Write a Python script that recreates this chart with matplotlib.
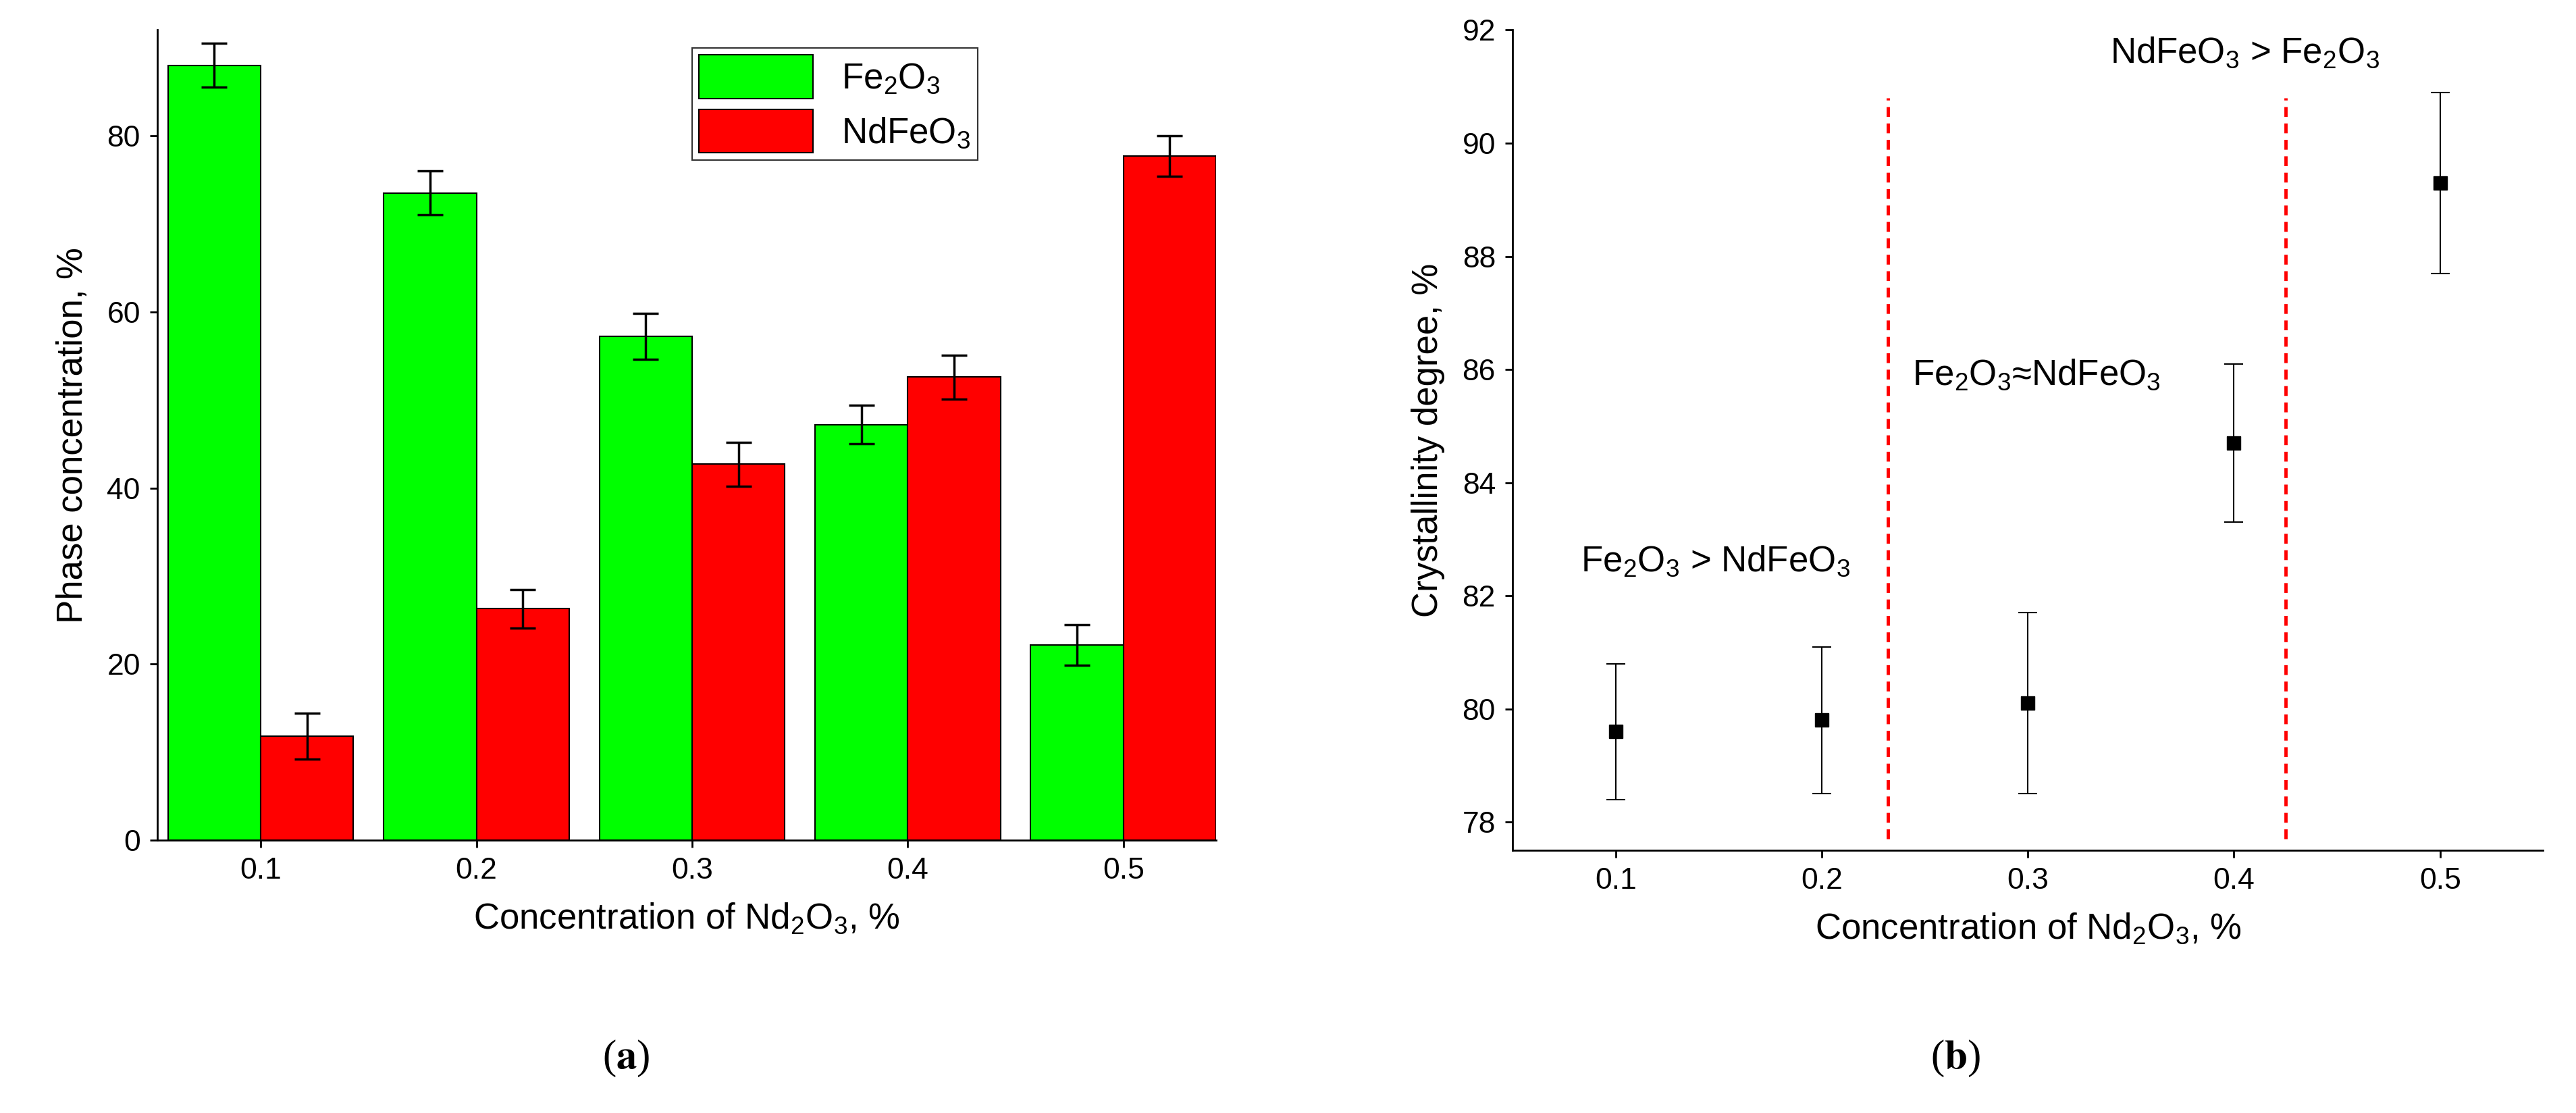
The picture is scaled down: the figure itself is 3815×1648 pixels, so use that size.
import matplotlib
matplotlib.use("Agg")
import matplotlib.pyplot as plt
import numpy as np

plt.rcParams['font.family'] = ['Liberation Sans', 'DejaVu Sans']
plt.rcParams['mathtext.default'] = 'regular'

conc = [0.1, 0.2, 0.3, 0.4, 0.5]
fe2o3 = [88.0, 73.5, 57.2, 47.2, 22.2]
fe2o3_err = [2.5, 2.5, 2.6, 2.2, 2.3]
ndfeo3 = [11.8, 26.3, 42.7, 52.6, 77.7]
ndfeo3_err = [2.6, 2.2, 2.5, 2.5, 2.3]
cryst = [79.6, 79.8, 80.1, 84.7, 89.3]
cryst_err = [1.2, 1.3, 1.6, 1.4, 1.6]
dividers = [0.232, 0.425]

fig = plt.figure(figsize=(38.16, 16.48), dpi=100)
fs_tick = 32
fs_lab = 38

ax1 = fig.add_axes([0.061, 0.245, 0.411, 0.728])
w = 0.043
ax1.bar(np.array(conc) - w/2, fe2o3, w, yerr=fe2o3_err, color='#00ff00', edgecolor='black',
        linewidth=1.5, capsize=14, error_kw=dict(elinewidth=2.5, capthick=2.5), label='Fe$_2$O$_3$')
ax1.bar(np.array(conc) + w/2, ndfeo3, w, yerr=ndfeo3_err, color='#ff0000', edgecolor='black',
        linewidth=1.5, capsize=14, error_kw=dict(elinewidth=2.5, capthick=2.5), label='NdFeO$_3$')
ax1.set_xlim(0.052, 0.543)
ax1.set_ylim(0, 92)
ax1.set_xticks(conc)
ax1.set_xticklabels([str(c) for c in conc])
ax1.set_yticks([0, 20, 40, 60, 80])
for s in ['top', 'right']:
    ax1.spines[s].set_visible(False)
for s in ['left', 'bottom']:
    ax1.spines[s].set_linewidth(2)
ax1.tick_params(labelsize=fs_tick, width=2, length=8, pad=10)
ax1.set_xlabel('Concentration of Nd$_2$O$_3$, %', fontsize=fs_lab, labelpad=18)
ax1.set_ylabel('Phase concentration, %', fontsize=fs_lab, labelpad=18)
leg = ax1.legend(loc='upper center', bbox_to_anchor=(0.64, 1.0), fontsize=fs_lab, frameon=True,
                 fancybox=False, edgecolor='black', handlelength=3.2, handleheight=1.5,
                 borderpad=0.2, labelspacing=0.3)
leg.get_frame().set_linewidth(1.5)

ax2 = fig.add_axes([0.587, 0.236, 0.40, 0.737])
ax2.errorbar(conc, cryst, yerr=cryst_err, fmt='s', color='black', markersize=15,
             ecolor='black', elinewidth=1.5, capsize=10, capthick=1.5)
for d in dividers:
    ax2.plot([d, d], [77.7, 90.8], color='red', linestyle=(0, (3, 2)), linewidth=3.5)
ax2.set_xlim(0.05, 0.55)
ax2.set_ylim(77.5, 92)
ax2.set_xticks(conc)
ax2.set_xticklabels([str(c) for c in conc])
ax2.set_yticks(np.arange(78, 93, 2))
for s in ['top', 'right']:
    ax2.spines[s].set_visible(False)
for s in ['left', 'bottom']:
    ax2.spines[s].set_linewidth(2)
ax2.tick_params(labelsize=fs_tick, width=2, length=8, pad=10)
ax2.set_xlabel('Concentration of Nd$_2$O$_3$, %', fontsize=fs_lab, labelpad=18)
ax2.set_ylabel('Crystallinity degree, %', fontsize=fs_lab, labelpad=18)
ax2.text(0.083, 82.3, 'Fe$_2$O$_3$ > NdFeO$_3$', fontsize=fs_lab, ha='left', va='bottom')
ax2.text(0.244, 85.6, 'Fe$_2$O$_3$≈NdFeO$_3$', fontsize=fs_lab, ha='left', va='bottom')
ax2.text(0.34, 91.3, 'NdFeO$_3$ > Fe$_2$O$_3$', fontsize=fs_lab, ha='left', va='bottom')

for x, l in [(0.243, 'a'), (0.759, 'b')]:
    fig.text(x, 0.04, '(' + r'$\mathbf{' + l + '}$' + ')', fontsize=44, ha='center',
             family='Liberation Serif', math_fontfamily='stix')
fig.savefig('out.png', dpi=100)
